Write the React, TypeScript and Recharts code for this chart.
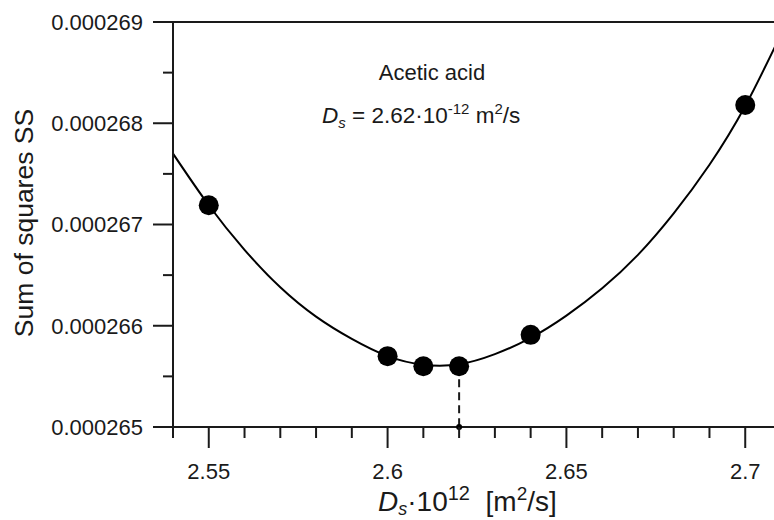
import { ComposedChart, Line, Scatter, XAxis, YAxis, ReferenceLine, ReferenceDot } from 'recharts';

// fitted curve, every 0.01
const curveX = [2.54, 2.55, 2.56, 2.57, 2.58, 2.59, 2.6, 2.61, 2.62, 2.63, 2.64, 2.65, 2.66, 2.67, 2.68, 2.69, 2.7, 2.71];
const curveY = [
  0.0002677, 0.00026719, 0.00026675, 0.00026638, 0.00026609, 0.00026587, 0.0002657, 0.000265615, 0.00026562,
  0.00026572, 0.00026588, 0.0002661, 0.00026637, 0.0002667, 0.00026711, 0.00026759, 0.00026817, 0.00026888,
];

// measured points
const pointX = [2.55, 2.6, 2.61, 2.62, 2.64, 2.7];
const pointY = [0.00026719, 0.0002657, 0.0002656, 0.0002656, 0.00026591, 0.00026818];

const minimumX = 2.62;
const minimumY = 0.0002656;

const xTicks = [2.54, 2.55, 2.56, 2.57, 2.58, 2.59, 2.6, 2.61, 2.62, 2.63, 2.64, 2.65, 2.66, 2.67, 2.68, 2.69, 2.7, 2.71];
const xTickLabels = ['', '2.55', '', '', '', '', '2.6', '', '', '', '', '2.65', '', '', '', '', '2.7', ''];
const yTicks = [0.000265, 0.0002655, 0.000266, 0.0002665, 0.000267, 0.0002675, 0.000268, 0.0002685, 0.000269];
const yTickLabels = ['0.000265', '', '0.000266', '', '0.000267', '', '0.000268', '', '0.000269'];

const curveData = curveX.map((x, i) => ({ x, ss: curveY[i] }));
const pointData = pointX.map((x, i) => ({ x, ss: pointY[i] }));

const INK = '#1a1a1a';
const FONT = '"Liberation Sans", Arial, sans-serif';

function XTick({ x, y, payload }: any) {
  const i = xTicks.findIndex((t) => Math.abs(t - payload.value) < 1e-9);
  const label = i >= 0 ? xTickLabels[i] : '';
  return (
    <g>
      <line x1={x} x2={x} y1={y} y2={y + (label ? 21 : 11)} stroke={INK} strokeWidth={2} />
      {label && (
        <text x={x} y={y + 52} textAnchor="middle" fontSize={22} fill={INK} fontFamily={FONT}>
          {label}
        </text>
      )}
    </g>
  );
}

function YTick({ x, y, payload }: any) {
  const i = yTicks.findIndex((t) => Math.abs(t - payload.value) < 1e-12);
  const label = i >= 0 ? yTickLabels[i] : '';
  return (
    <g>
      <line x1={x} x2={x - (label ? 20 : 10)} y1={y} y2={y} stroke={INK} strokeWidth={2} />
      {label && (
        <text x={x - 30} y={y} dy="0.36em" textAnchor="end" fontSize={22} fill={INK} fontFamily={FONT}>
          {label}
        </text>
      )}
    </g>
  );
}

const dotShape = (props: any) => <circle cx={props.cx} cy={props.cy} r={10} fill="#000" />;

export default function App() {
  return (
    <div style={{ position: 'absolute', left: 0, top: 0, width: 774, height: 520, overflow: 'hidden', background: '#fff' }}>
      <ComposedChart width={790} height={520} margin={{ top: 22, right: 9, bottom: 0, left: 0 }}>
        <XAxis
          type="number"
          dataKey="x"
          domain={[2.54, 2.71]}
          ticks={xTicks}
          interval={0}
          tickSize={0}
          tickMargin={0}
          tick={<XTick />}
          height={93}
          allowDataOverflow
          axisLine={{ stroke: INK, strokeWidth: 2 }}
        />
        <YAxis
          type="number"
          dataKey="ss"
          domain={[0.000265, 0.000269]}
          ticks={yTicks}
          interval={0}
          tickSize={0}
          tickMargin={0}
          tick={<YTick />}
          width={173}
          allowDataOverflow
          axisLine={{ stroke: INK, strokeWidth: 2 }}
        />
        <ReferenceLine y={0.000269} stroke={INK} strokeWidth={2} />
        <ReferenceLine
          segment={[
            { x: minimumX, y: minimumY },
            { x: minimumX, y: 0.000265 },
          ]}
          stroke={INK}
          strokeWidth={2}
          strokeDasharray="8 5"
        />
        <Line
          data={curveData}
          dataKey="ss"
          type="natural"
          stroke="#000"
          strokeWidth={2}
          dot={false}
          activeDot={false}
          isAnimationActive={false}
        />
        <Scatter data={pointData} dataKey="ss" fill="#000" shape={dotShape} isAnimationActive={false} />
        <ReferenceDot x={minimumX} y={0.000265} r={3} fill="#000" stroke="none" />
      </ComposedChart>
      <svg width={774} height={520} style={{ position: 'absolute', left: 0, top: 0, pointerEvents: 'none' }} fontFamily={FONT} fill={INK}>
        <text transform="translate(33,223) rotate(-90)" textAnchor="middle" fontSize={26.5}>
          Sum of squares SS
        </text>
        <text x={378} y={511} fontSize={28}>
          <tspan fontStyle="italic">D</tspan>
          <tspan fontSize={18} dy={4} fontStyle="italic">s</tspan>
          <tspan dy={-4}>·10</tspan>
          <tspan fontSize={20} dy={-11}>12</tspan>
          <tspan dy={11}>{'\u00a0\u00a0[m'}</tspan>
          <tspan fontSize={19} dy={-11}>2</tspan>
          <tspan dy={11}>/s]</tspan>
        </text>
        <text x={432} y={80} textAnchor="middle" fontSize={22}>
          Acetic acid
        </text>
        <text x={322} y={123} fontSize={22.5}>
          <tspan fontStyle="italic">D</tspan>
          <tspan fontSize={15} dy={5} fontStyle="italic">s</tspan>
          <tspan dy={-5}>{' = 2.62·10'}</tspan>
          <tspan fontSize={15} dy={-9}>-12</tspan>
          <tspan dy={9}>{'\u00a0m'}</tspan>
          <tspan fontSize={15} dy={-9}>2</tspan>
          <tspan dy={9}>/s</tspan>
        </text>
      </svg>
    </div>
  );
}
